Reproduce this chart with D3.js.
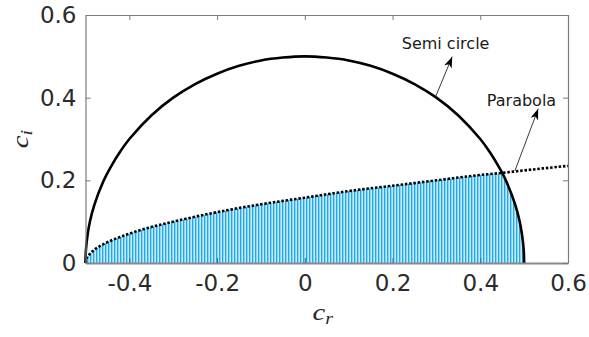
<!DOCTYPE html>
<html>
<head>
<meta charset="utf-8">
<script src="https://cdn.jsdelivr.net/npm/d3@7"></script>
<style>
  body { margin: 0; background: #fff; }
  svg { display: block; }
  .tick text { font-family: "DejaVu Sans", sans-serif; }
</style>
</head>
<body>
<svg id="chart" width="589" height="337"></svg>
<script>
// values
const xTicks = [-0.4, -0.2, 0, 0.2, 0.4, 0.6]
const yTicks = [0, 0.2, 0.4, 0.6]

// semi circle (cr, ci)
const circleCr = [-0.5, -0.499, -0.495, -0.49, -0.48, -0.46, -0.44, -0.42, -0.4, -0.35, -0.3, -0.25, -0.2, -0.15, -0.1, -0.05,
  0, 0.05, 0.1, 0.15, 0.2, 0.25, 0.3, 0.35, 0.4, 0.42, 0.44, 0.45, 0.46, 0.48, 0.49, 0.495, 0.499, 0.5]
const circleCi = [0, 0.032, 0.07, 0.1, 0.14, 0.196, 0.237, 0.271, 0.3, 0.357, 0.4, 0.433, 0.458, 0.477, 0.49, 0.497,
  0.5, 0.497, 0.49, 0.477, 0.458, 0.433, 0.4, 0.357, 0.3, 0.271, 0.237, 0.218, 0.196, 0.14, 0.1, 0.07, 0.032, 0]

// parabola (cr, ci)
const paraCr = [-0.5, -0.499, -0.495, -0.49, -0.48, -0.46, -0.44, -0.4, -0.35, -0.3, -0.2, -0.1, 0, 0.1, 0.2, 0.3, 0.4, 0.45, 0.5, 0.6]
const paraCi = [0, 0.007, 0.016, 0.022, 0.032, 0.045, 0.055, 0.071, 0.087, 0.1, 0.123, 0.142, 0.158, 0.174, 0.187, 0.2, 0.213, 0.218, 0.224, 0.235]

// crossing of the two curves
const crossCr = 0.45

const labels = ["Semi circle", "Parabola"]
const arrowFrom = [[0.298, 0.402], [0.479, 0.223]]
const arrowTo = [[0.336, 0.499], [0.532, 0.373]]
const labelAt = [[0.221, 0.518], [0.415, 0.380]]

const svg = d3.select("#chart")
const m = { left: 85.5, right: 568, top: 15, bottom: 263 }

const x = d3.scaleLinear().domain([-0.5, 0.6]).range([m.left, m.right])
const y = d3.scaleLinear().domain([0, 0.6]).range([m.bottom, m.top])

const circle = circleCr.map((c, i) => ({ cr: c, ci: circleCi[i] }))
const para = paraCr.map((c, i) => ({ cr: c, ci: paraCi[i] }))
// shaded region: under the parabola up to the crossing, then under the circle
const region = para.filter(d => d.cr <= crossCr)
  .concat(circle.filter(d => d.cr > crossCr))

// stripes for the shaded region
const defs = svg.append("defs")
const pat = defs.append("pattern")
  .attr("id", "stripes")
  .attr("patternUnits", "userSpaceOnUse")
  .attr("width", 3).attr("height", 10)
pat.append("rect").attr("x", 0).attr("width", 1).attr("height", 10).attr("fill", "#22aae8")
pat.append("rect").attr("x", 1).attr("width", 1).attr("height", 10).attr("fill", "#8bd4f5")
pat.append("rect").attr("x", 2).attr("width", 1).attr("height", 10).attr("fill", "#c4eafa")

defs.append("marker")
  .attr("id", "head")
  .attr("viewBox", "-12 -5 13 10")
  .attr("markerUnits", "userSpaceOnUse")
  .attr("markerWidth", 13).attr("markerHeight", 10)
  .attr("refX", 0).attr("refY", 0)
  .attr("orient", "auto")
  .append("path")
  .attr("d", "M0,0 L-11,-4 L-8,0 L-11,4 Z")
  .attr("fill", "#000")

const area = d3.area()
  .x(d => x(d.cr))
  .y0(y(0))
  .y1(d => y(d.ci))

svg.append("path")
  .datum(region)
  .attr("d", area)
  .attr("fill", "url(#stripes)")

const line = d3.line()
  .x(d => x(d.cr))
  .y(d => y(d.ci))
  .curve(d3.curveMonotoneX)

svg.append("path")
  .datum(para)
  .attr("d", line)
  .attr("fill", "none")
  .attr("stroke", "#000")
  .attr("stroke-width", 2.6)
  .attr("stroke-dasharray", "2.5,1.8")

svg.append("path")
  .datum(circle)
  .attr("d", d3.line().x(d => x(d.cr)).y(d => y(d.ci)).curve(d3.curveCatmullRom))
  .attr("fill", "none")
  .attr("stroke", "#000")
  .attr("stroke-width", 2.6)

// axes, ticks inside, box all round
const axisColor = "#7a7a7a"
const tickLen = 5
const fmt = d => String(d)

const gx = svg.append("g").attr("transform", `translate(0,${m.bottom})`)
  .call(d3.axisBottom(x).tickValues(xTicks).tickSizeInner(-tickLen).tickSizeOuter(0).tickPadding(12).tickFormat(fmt))
const gy = svg.append("g").attr("transform", `translate(${m.left},0)`)
  .call(d3.axisLeft(y).tickValues(yTicks).tickSizeInner(-tickLen).tickSizeOuter(0).tickPadding(9).tickFormat(fmt))
const gt = svg.append("g").attr("transform", `translate(0,${m.top})`)
  .call(d3.axisTop(x).tickValues(xTicks).tickSizeInner(-tickLen).tickSizeOuter(0).tickFormat(""))
const gr = svg.append("g").attr("transform", `translate(${m.right},0)`)
  .call(d3.axisRight(y).tickValues(yTicks).tickSizeInner(-tickLen).tickSizeOuter(0).tickFormat(""))

;[gx, gy, gt, gr].forEach(g => {
  g.select(".domain").attr("stroke", axisColor).attr("stroke-width", 1.2)
  g.selectAll(".tick line").attr("stroke", axisColor)
  g.selectAll(".tick text").attr("fill", "#2b2b2b").attr("font-size", 23)
})
gx.selectAll(".tick line").attr("stroke", "#2f6f9a")
gx.selectAll(".tick text").attr("dy", "0.71em")
gx.select(".domain").attr("stroke", "#8a8a8a").attr("stroke-width", 2)

// axis labels
svg.append("text")
  .attr("transform", `translate(${(m.left + m.right) / 2 - 4},320) scale(1.25,1)`)
  .attr("text-anchor", "middle")
  .attr("font-family", "'Liberation Serif', serif")
  .attr("font-style", "italic")
  .attr("font-size", 23)
  .attr("fill", "#262626")
  .html('c<tspan font-size="16" dy="4">r</tspan>')

svg.append("text")
  .attr("transform", `translate(28,${(m.top + m.bottom) / 2}) rotate(-90) scale(1.25,1)`)
  .attr("text-anchor", "middle")
  .attr("font-family", "'Liberation Serif', serif")
  .attr("font-style", "italic")
  .attr("font-size", 23)
  .attr("fill", "#262626")
  .html('c<tspan font-size="16" dy="4">i</tspan>')

// annotations
labels.forEach((t, i) => {
  svg.append("line")
    .attr("x1", x(arrowFrom[i][0])).attr("y1", y(arrowFrom[i][1]))
    .attr("x2", x(arrowTo[i][0])).attr("y2", y(arrowTo[i][1]))
    .attr("stroke", "#222")
    .attr("stroke-width", 0.9)
    .attr("marker-end", "url(#head)")
  svg.append("text")
    .attr("x", x(labelAt[i][0])).attr("y", y(labelAt[i][1]))
    .attr("font-family", "'DejaVu Sans', sans-serif")
    .attr("font-size", 16)
    .attr("fill", "#1a1a1a")
    .text(t)
})
</script>
</body>
</html>
